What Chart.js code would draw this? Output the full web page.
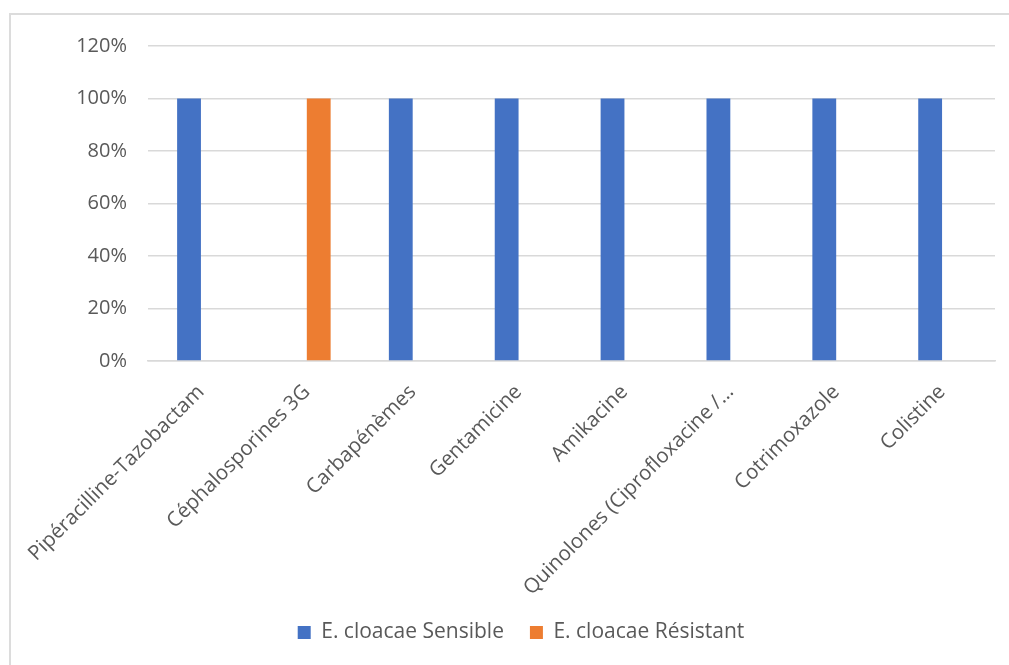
<!DOCTYPE html>
<html>
<head>
<meta charset="utf-8">
<title>E. cloacae</title>
<script src="https://cdn.jsdelivr.net/npm/chart.js@4.4.0/dist/chart.umd.min.js"></script>
<style>
  html, body { margin: 0; padding: 0; background: #fff; overflow: hidden; }
  #frame {
    position: absolute; left: 9px; top: 13px; width: 1100px; height: 800px;
    border: 2px solid #dcdcdc;
  }
  #wrap { position: absolute; left: 10px; top: 13px; width: 1022px; height: 652px; }
</style>
</head>
<body>
<div id="frame"></div>
<div id="wrap"><canvas id="chart"></canvas></div>
<script>
const categories = [
  "Pipéracilline-Tazobactam",
  "Céphalosporines 3G",
  "Carbapénèmes",
  "Gentamicine",
  "Amikacine",
  "Quinolones (Ciprofloxacine /…",
  "Cotrimoxazole",
  "Colistine"
];
const sensible = [100, 0, 100, 100, 100, 100, 100, 100];
const resistant = [0, 100, 0, 0, 0, 0, 0, 0];
const yTicks = [0, 20, 40, 60, 80, 100, 120];

const textColor = "#595959";
const gridColor = "#d9d9d9";
const fontFamily = "'Open Sans', sans-serif";

new Chart(document.getElementById("chart"), {
  type: "bar",
  data: {
    labels: categories,
    datasets: [
      { label: "E. cloacae Sensible", data: sensible, backgroundColor: "#4472C4" },
      { label: "E. cloacae Résistant", data: resistant, backgroundColor: "#ED7D31" }
    ]
  },
  options: {
    responsive: true,
    maintainAspectRatio: false,
    animation: false,
    // left padding keeps the legend centred on the whole frame
    layout: { padding: { top: 27, right: 37, bottom: 12, left: 37 } },
    datasets: { bar: { categoryPercentage: 0.45, barPercentage: 1 } },
    plugins: {
      tooltip: { enabled: false },
      legend: {
        position: "bottom",
        labels: {
          color: textColor,
          font: { family: fontFamily, size: 21 },
          boxWidth: 13,
          boxHeight: 13,
          padding: 26
        }
      }
    },
    scales: {
      x: {
        grid: { display: false },
        border: { display: true, color: gridColor, width: 1.5 },
        ticks: {
          color: textColor,
          font: { family: fontFamily, size: 20.5 },
          maxRotation: 45,
          minRotation: 45,
          autoSkip: false,
          padding: 11
        },
        // rotated labels may hang left past the plot; keep the plot edge fixed
        afterFit: (s) => { s.height = 235; s.paddingLeft = 0; }
      },
      y: {
        min: 0,
        max: 120,
        border: { display: false },
        grid: { color: gridColor, lineWidth: 1.5, drawTicks: false },
        afterBuildTicks: (s) => { s.ticks = yTicks.map((v) => ({ value: v })); },
        ticks: {
          color: textColor,
          font: { family: fontFamily, size: 20 },
          padding: 21,
          callback: (v) => v + "%"
        },
        afterFit: (s) => { s.width = 101; }
      }
    }
  }
});
</script>
</body>
</html>
